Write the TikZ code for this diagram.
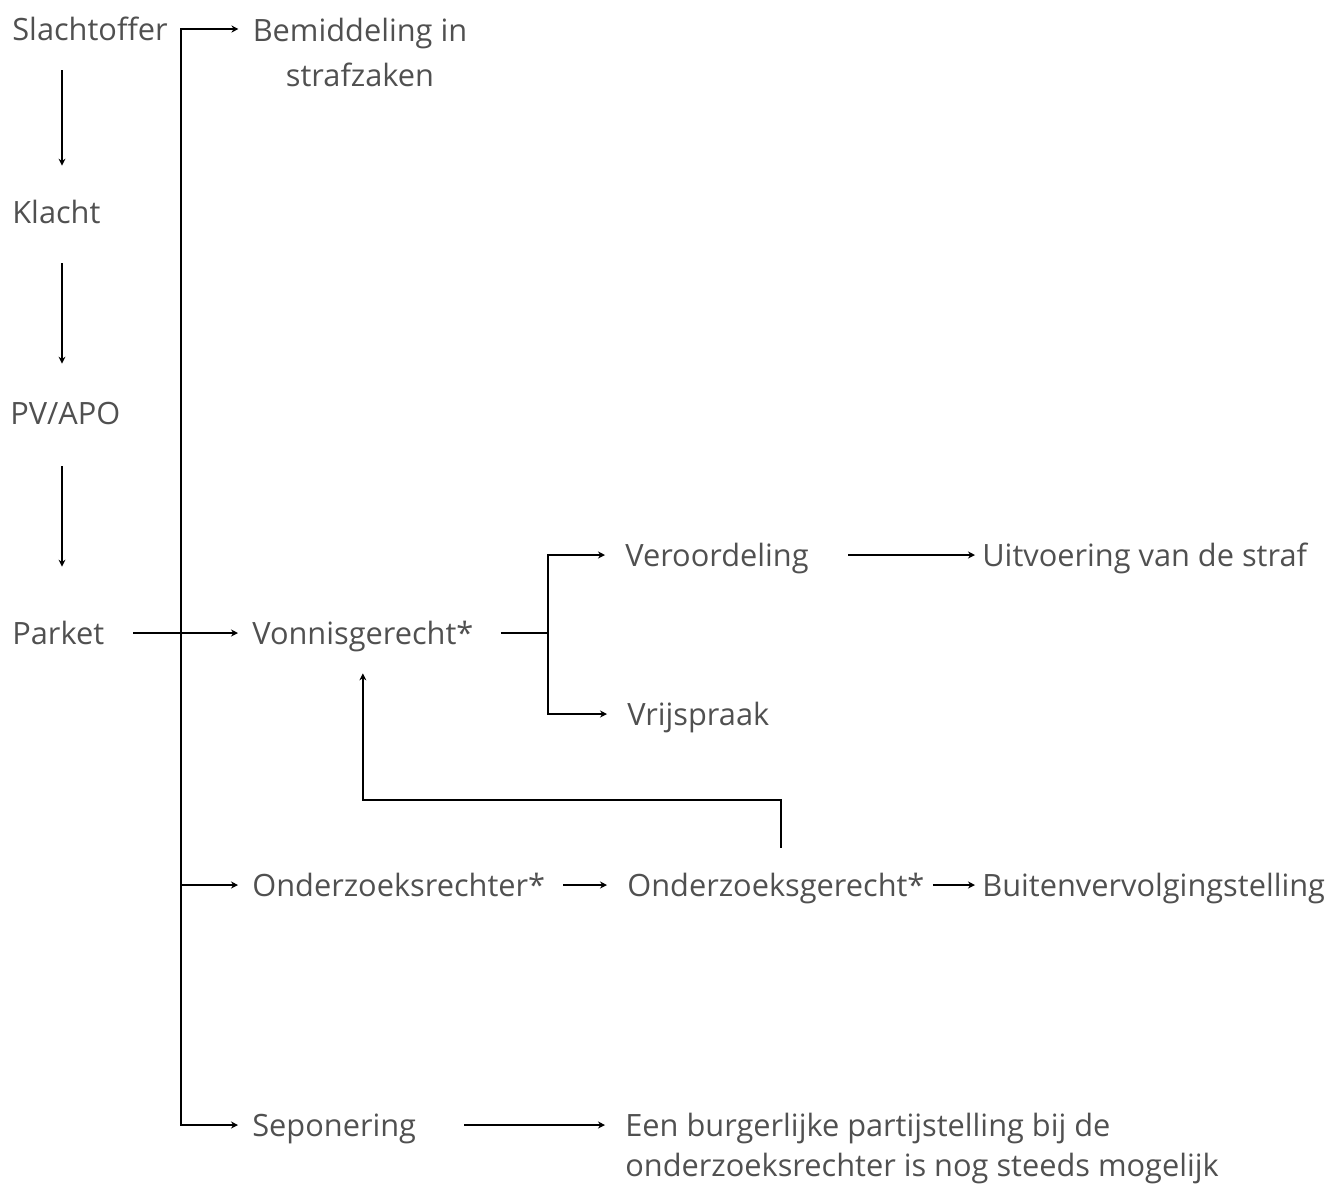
\documentclass[tikz,border=0pt]{standalone}
\usepackage{fontspec}
\setmainfont{Open Sans}
\usetikzlibrary{arrows.meta,positioning}
\definecolor{labelgray}{RGB}{80,80,80}

\begin{document}
\begin{tikzpicture}[x=0.02cm, y=-0.02cm,
    stage/.style={anchor=west, inner sep=0pt, text height=0.44cm, text depth=0pt, text=labelgray, font=\fontsize{17.5}{21}\selectfont},
    note/.style={inner sep=0pt, text=labelgray},
    flow/.style={-{Stealth[length=4pt,width=4pt]}, line width=1pt},
    fork/.style={{Stealth[length=4pt,width=4pt]}-{Stealth[length=4pt,width=4pt]}, line width=1pt},
    link/.style={line width=1pt}
]
    \useasboundingbox (0,0) rectangle (1342,1184);

    % Left column
    \node[stage] (slacht) at (12,29) {Slachtoffer};
    \node[stage] (klacht) at (12,212) {Klacht};
    \node[stage] (pvapo) at (10,413) {PV/APO};
    \node[stage] (parket) at (12,633) {Parket};

    % Outcomes of the parket
    \node[note, anchor=north, align=center, font=\fontsize{17.5}{25.6}\selectfont] (bemid) at (360,18) {Bemiddeling in\\strafzaken};
    \node[stage] (vonnis) at (252,633) {Vonnisgerecht*};
    \node[stage] (ozrechter) at (252,885) {Onderzoeksrechter*};
    \node[stage] (sepon) at (252,1125) {Seponering};

    % Further steps
    \node[stage] (veroor) at (625,555) {Veroordeling};
    \node[stage] (uitvoer) at (982,555) {Uitvoering van de straf};
    \node[stage] (vrijsp) at (627,714) {Vrijspraak};
    \node[stage] (ozgerecht) at (627,885) {Onderzoeksgerecht*};
    \node[stage] (buiten) at (982,885) {Buitenvervolgingstelling};
    \node[note, anchor=north west, align=left, font=\fontsize{17.5}{22.8}\selectfont] (burger) at (625,1113) {Een burgerlijke partijstelling bij de\\onderzoeksrechter is nog steeds mogelijk};

    % Helper coordinates
    \coordinate (leftcol) at (62,0);
    \coordinate (spine) at (181,0);
    \coordinate (split) at (548,0);
    \coordinate (loop) at (0,800);

    % Left column arrows
    \foreach \a/\b/\s/\e in {slacht/klacht/0.6/0.7, klacht/pvapo/0.8/0.76, pvapo/parket/0.84/1.1} {
        \draw[flow, shorten <=\s cm, shorten >=\e cm] (\a.south -| leftcol) -- (\b.north -| leftcol);
    }

    % Main spine
    \draw[fork, shorten <=0.28cm, shorten >=0.28cm] (slacht -| bemid.west) -- (slacht -| spine) -- (sepon -| spine) -- (sepon.west);
    \draw[flow, shorten <=0.58cm, shorten >=0.28cm] (parket.east) -- (vonnis.west);
    \draw[flow, shorten >=0.28cm] (ozrechter -| spine) -- (ozrechter.west);

    % Vonnisgerecht split
    \draw[link, shorten <=0.54cm] (vonnis.east) -- (vonnis -| split);
    \draw[fork, shorten <=0.4cm, shorten >=0.4cm] (veroor.west) -- (veroor -| split) -- (vrijsp -| split) -- (vrijsp.west);
    \draw[flow, shorten <=0.78cm, shorten >=0.14cm] (veroor.east) -- (uitvoer.west);

    % Onderzoek row
    \draw[flow, shorten <=0.36cm, shorten >=0.4cm] (ozrechter.east) -- (ozgerecht.west);
    \draw[flow, shorten <=0.16cm, shorten >=0.14cm] (ozgerecht.east) -- (buiten.west);
    \draw[flow, shorten <=0.52cm, shorten >=0.58cm] ([xshift=0.1cm]ozgerecht.north) -- ([xshift=0.1cm]ozgerecht.north |- loop) -- (vonnis.south |- loop) -- (vonnis.south);

    % Seponering
    \draw[flow, shorten <=0.96cm, shorten >=0.4cm] (sepon.east) -- (sepon -| burger.west);
\end{tikzpicture}
\end{document}
